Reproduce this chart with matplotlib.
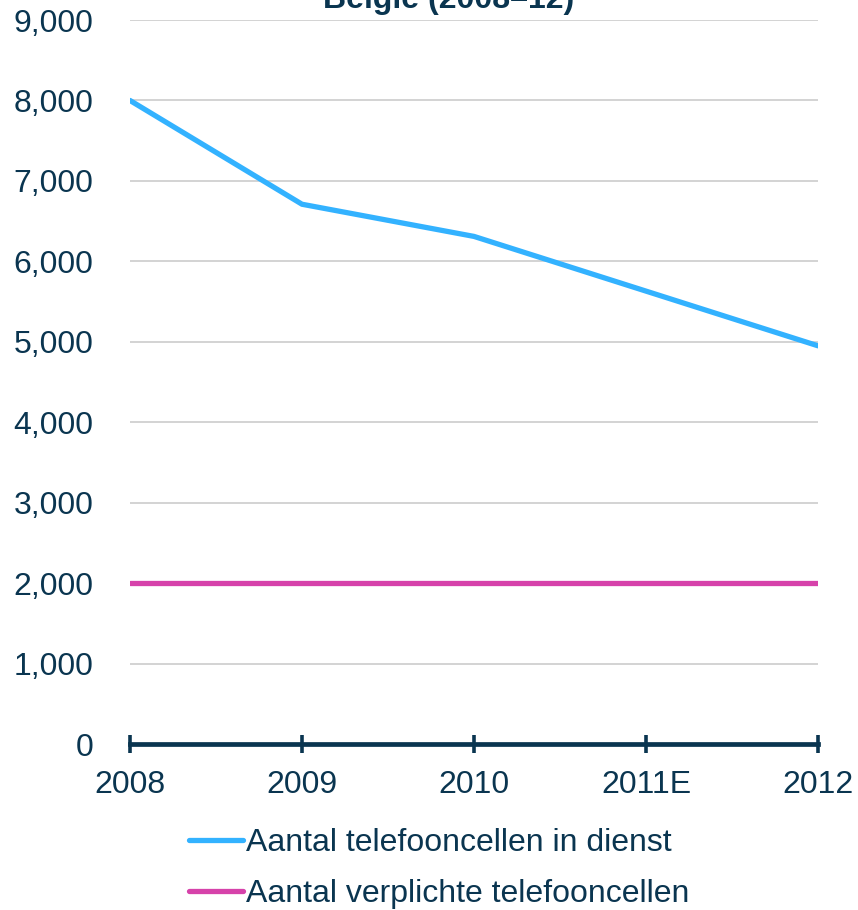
import matplotlib
matplotlib.use("Agg")
import matplotlib.pyplot as plt
import numpy as np

years = ["2008", "2009", "2010", "2011E", "2012"]
in_dienst = [8000, 6710, 6310, 5630, 4950]
verplicht = [2000, 2000, 2000, 2000, 2000]
labels = ["Aantal telefooncellen in dienst", "Aantal verplichte telefooncellen"]
yticks = np.arange(0, 9001, 1000)

navy = "#0a3550"
plt.rcParams["font.family"] = ["Liberation Sans", "DejaVu Sans"]

fig = plt.figure(figsize=(8.58, 9.10), dpi=100)
ax = fig.add_axes([0.1515, 0.1824, 0.8019, 0.7956])

x = np.arange(len(years))
ax.plot(x, in_dienst, color="#33b2ff", lw=3.8, solid_capstyle="round",
        solid_joinstyle="miter", label=labels[0], zorder=3)
ax.plot(x, verplicht, color="#d642aa", lw=3.8, solid_capstyle="round",
        label=labels[1], zorder=3)

ax.set_xlim(0, len(years) - 1)
ax.set_ylim(0, 9000)
ax.set_yticks(yticks)
ax.set_yticklabels([f"{v:,}" for v in yticks])
ax.set_xticks(x)
ax.set_xticklabels(years)

ax.grid(axis="y", color="#d0d0d0", lw=1.3)
ax.set_axisbelow(True)
for s in ["top", "right", "left"]:
    ax.spines[s].set_visible(False)
ax.spines["bottom"].set_color(navy)
ax.spines["bottom"].set_linewidth(3.4)
ax.spines["bottom"].set_zorder(4)
ax.tick_params(axis="x", direction="inout", length=13, width=2.6, color=navy,
               labelsize=23, labelcolor=navy, pad=12)
ax.tick_params(axis="y", length=0, labelsize=23, labelcolor=navy, pad=26.5)

# title sits partly above the figure edge, as in the source
fig.text(0.523, 0.9995, "België (2008–12)", ha="center", va="center",
         fontsize=23, fontweight="bold", color=navy)

leg = fig.legend(loc="center", bbox_to_anchor=(0.512, 0.0455), ncol=1,
                 frameon=False, fontsize=23, handlelength=1.7,
                 handletextpad=0.1, labelspacing=0.64)
for t in leg.get_texts():
    t.set_color(navy)

fig.savefig("out.png", dpi=100)
